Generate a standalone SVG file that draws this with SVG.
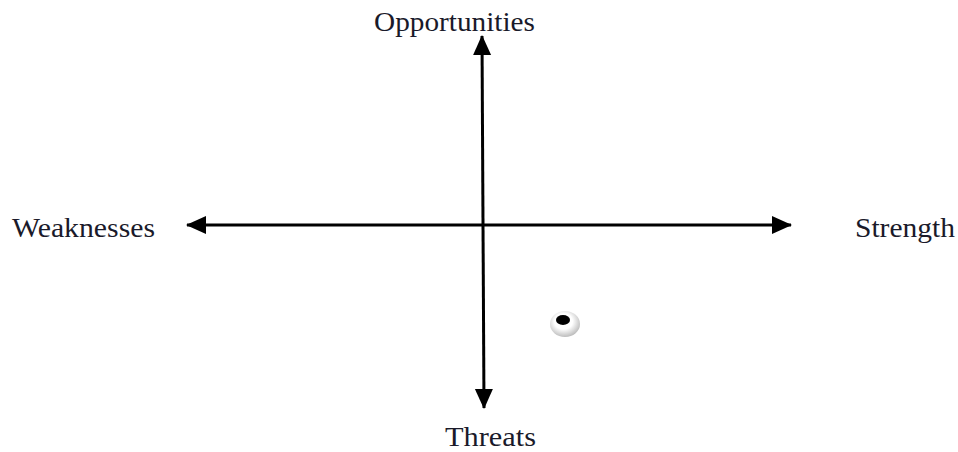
<svg xmlns="http://www.w3.org/2000/svg" width="958" height="452" viewBox="0 0 958 452">
<style>
.lbl{font-family:"Liberation Serif","Times New Roman",serif;font-size:27px;fill:#1a1a2a}
.ax{stroke:#000;stroke-width:3;fill:none}
</style>
<defs>
<marker id="ah" viewBox="0 0 20 20" refX="19" refY="10" markerWidth="20" markerHeight="20" markerUnits="userSpaceOnUse" orient="auto-start-reverse">
<path d="M0,1 L20,10 L0,19 Z" fill="#000"/>
</marker>
<radialGradient id="g" cx="0.45" cy="0.4" r="0.6">
<stop offset="0.5" stop-color="#fff"/>
<stop offset="1" stop-color="#bdbdbd"/>
</radialGradient>
</defs>
<rect width="958" height="452" fill="#fff"/>
<g id="connectors">
<line class="ax" x1="187" y1="225" x2="791" y2="225" marker-start="url(#ah)" marker-end="url(#ah)"/>
<line class="ax" x1="482" y1="36" x2="484" y2="408" marker-start="url(#ah)" marker-end="url(#ah)"/>
</g>
<g id="opportunities"><text class="lbl" x="374" y="31" textLength="161" lengthAdjust="spacingAndGlyphs">Opportunities</text></g>
<g id="threats"><text class="lbl" x="445" y="446" textLength="91" lengthAdjust="spacingAndGlyphs">Threats</text></g>
<g id="weaknesses"><text class="lbl" x="12" y="237" textLength="143" lengthAdjust="spacingAndGlyphs">Weaknesses</text></g>
<g id="strength"><text class="lbl" x="855" y="237" textLength="100" lengthAdjust="spacingAndGlyphs">Strength</text></g>
<g id="marker-dot">
<ellipse cx="565" cy="324" rx="15" ry="13" fill="url(#g)"/>
<ellipse cx="563" cy="320" rx="7" ry="5" fill="#000"/>
</g>
</svg>
